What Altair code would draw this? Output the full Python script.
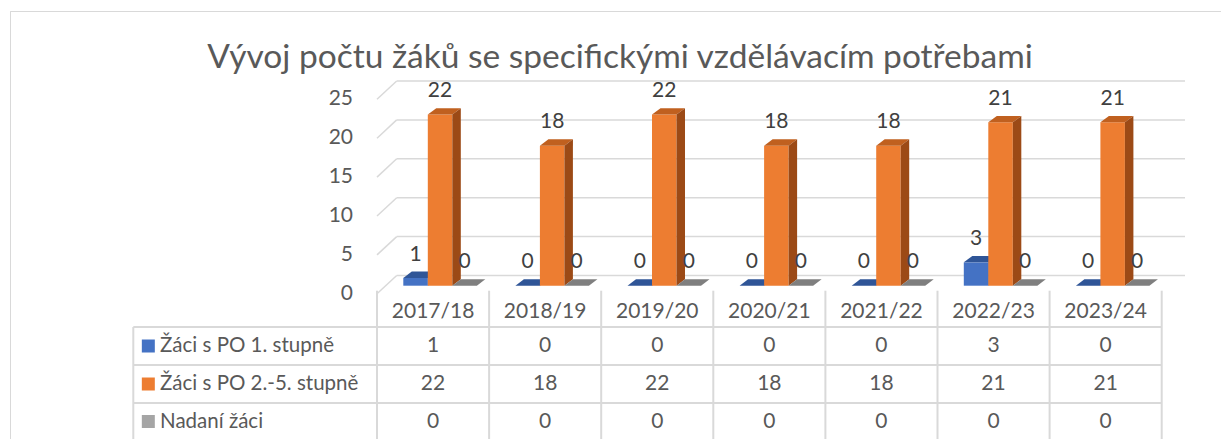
import altair as alt
import pandas as pd

# ---------------- data ----------------
categories = ["2017/18", "2018/19", "2019/20", "2020/21", "2021/22", "2022/23", "2023/24"]
series = ["Žáci s PO 1. stupně", "Žáci s PO 2.-5. stupně", "Nadaní žáci"]
po_1 = [1, 0, 0, 0, 0, 3, 0]
po_2_5 = [22, 18, 22, 18, 18, 21, 21]
nadani = [0, 0, 0, 0, 0, 0, 0]
values = [po_1, po_2_5, nadani]
y_ticks = [0, 5, 10, 15, 20, 25]
title_text = "Vývoj počtu žáků se specifickými vzdělávacím potřebami"

# ---------------- layout / style constants ----------------
X_DOM = [-3.2739, 7.5290]      # x in "category column" units
Y_DOM = [-19.704, 35.308]      # y in value units
W, H = 1211, 428
BAR_W = 0.2186
GROUP_SHIFT = 0.5625
DX, DY = 0.0758, 0.823         # 3-D depth of bars
GRID_FRONT, GRID_BACK = -1.041, 1.311
GRID_BACK_X, GRID_END = 0.1757, 7.208
LABEL_DY = 3.0
TABLE_TOP = -0.643
ROW_LINES = [-5.308, -10.193, -15.077]
HEADER_Y = -3.38
ROW_Y = [-7.751, -12.635, -17.455]
TABLE_LEFT = -2.174
KEY_X, NAME_X = -2.040, -1.935
YLAB_X = -0.2141
TITLE_X, TITLE_Y = 2.168, 27.95

FONT = "Lato"
FS = 21
TXT = "#595959"
LINE = "#d9d9d9"
palette = [
    {"front": "#4472c4", "top": "#2f5597", "side": "#345aa0"},
    {"front": "#ed7d31", "top": "#c0601f", "side": "#9c4a16"},
    {"front": "#a5a5a5", "top": "#7f7f7f", "side": "#6f6f6f"},
]
legend_colors = ["#4472c4", "#ed7d31", "#a5a5a5"]

xs = alt.Scale(domain=X_DOM, nice=False, zero=False)
ys = alt.Scale(domain=Y_DOM, nice=False, zero=False)
xaxis = alt.Axis(orient="top", labels=False, ticks=False, grid=False, title=None,
                 domainColor=LINE, domainWidth=1)
yaxis = alt.Axis(orient="left", labels=False, ticks=False, grid=False, title=None,
                 domainColor=LINE, domainWidth=1)


def X(f):
    return alt.X(f, type="quantitative", scale=xs, axis=xaxis)


def Y(f):
    return alt.Y(f, type="quantitative", scale=ys, axis=yaxis)


layers = []

# gridlines (3-D wall)
gl = pd.DataFrame({
    "x0": [0.0] * len(y_ticks),
    "y0": [v + GRID_FRONT for v in y_ticks],
    "x1": [GRID_BACK_X] * len(y_ticks),
    "y1": [v + GRID_BACK for v in y_ticks],
    "x2": [GRID_END] * len(y_ticks),
})
layers.append(alt.Chart(gl).mark_rule(color=LINE, strokeWidth=1.5).encode(
    x=X("x0"), x2="x1", y=Y("y0"), y2="y1"))
layers.append(alt.Chart(gl).mark_rule(color=LINE, strokeWidth=1.5).encode(
    x=X("x1"), x2="x2", y=Y("y1"), y2="y1"))

# y tick labels
yl = pd.DataFrame({"y": [v + GRID_FRONT for v in y_ticks], "t": [str(v) for v in y_ticks],
                   "x": [YLAB_X] * len(y_ticks)})
layers.append(alt.Chart(yl).mark_text(align="right", baseline="middle", font=FONT,
                                       fontSize=FS, color=TXT).encode(
    x=X("x"), y=Y("y"), text="t:N"))

# table lines
ncat = len(categories)
vl = pd.DataFrame({"x": list(range(ncat + 1)), "y": [TABLE_TOP] * (ncat + 1),
                   "y2": [Y_DOM[0]] * (ncat + 1)})
vl = pd.concat([vl, pd.DataFrame({"x": [TABLE_LEFT], "y": [ROW_LINES[0]], "y2": [Y_DOM[0]]})])
layers.append(alt.Chart(vl).mark_rule(color=LINE, strokeWidth=2).encode(
    x=X("x"), y=Y("y"), y2="y2"))
hl = pd.DataFrame({"y": ROW_LINES, "x": [TABLE_LEFT] * 3, "x2": [float(ncat)] * 3})
layers.append(alt.Chart(hl).mark_rule(color=LINE, strokeWidth=2).encode(
    x=X("x"), x2="x2", y=Y("y")))

# 3-D bars
for si, vals in enumerate(values):
    fronts, tops, sides = [], [], []
    for k, v in enumerate(vals):
        c = k + GROUP_SHIFT + (si - 1) * BAR_W
        xl, xr = c - BAR_W / 2, c + BAR_W / 2
        bid = f"{si}-{k}"
        fronts.append({"x": xl, "x2": xr, "y": 0.0, "y2": float(v)})
        tops += [
            {"id": bid, "x": xl, "y": v, "y2": v},
            {"id": bid, "x": xl + DX, "y": v + DY, "y2": v},
            {"id": bid, "x": xr, "y": v + DY, "y2": v},
            {"id": bid, "x": xr + DX, "y": v + DY, "y2": v + DY},
        ]
        sides += [
            {"id": bid, "x": xr, "y": v, "y2": 0.0},
            {"id": bid, "x": xr + DX, "y": v + DY, "y2": DY},
        ]
    p = palette[si]
    layers.append(alt.Chart(pd.DataFrame(fronts)).mark_rect(color=p["front"]).encode(
        x=X("x"), x2="x2", y=Y("y"), y2="y2"))
    layers.append(alt.Chart(pd.DataFrame(tops)).mark_area(color=p["top"], orient="vertical").encode(
        x=X("x"), y=Y("y"), y2="y2", detail="id:N"))
    layers.append(alt.Chart(pd.DataFrame(sides)).mark_area(color=p["side"], orient="vertical").encode(
        x=X("x"), y=Y("y"), y2="y2", detail="id:N"))

# data labels
lab = []
for si, vals in enumerate(values):
    for k, v in enumerate(vals):
        lab.append({"x": k + GROUP_SHIFT + (si - 1) * BAR_W, "y": v + LABEL_DY, "t": str(v)})
layers.append(alt.Chart(pd.DataFrame(lab)).mark_text(baseline="middle", font=FONT, fontSize=FS,
                                                       color="#404040").encode(
    x=X("x"), y=Y("y"), text="t:N"))

# table header
hd = pd.DataFrame({"x": [k + 0.5 for k in range(ncat)], "y": [HEADER_Y] * ncat, "t": categories})
layers.append(alt.Chart(hd).mark_text(baseline="middle", font=FONT, fontSize=FS, color=TXT).encode(
    x=X("x"), y=Y("y"), text="t:N"))

# table cells
cells = []
for si, vals in enumerate(values):
    for k, v in enumerate(vals):
        cells.append({"x": k + 0.5, "y": ROW_Y[si], "t": str(v)})
layers.append(alt.Chart(pd.DataFrame(cells)).mark_text(baseline="middle", font=FONT, fontSize=FS,
                                                         color=TXT).encode(
    x=X("x"), y=Y("y"), text="t:N"))

# row headers with legend keys
rh = pd.DataFrame({"s": series, "y": ROW_Y, "kx": [KEY_X] * 3, "nx": [NAME_X] * 3})
layers.append(alt.Chart(rh).mark_square(size=169, opacity=1).encode(
    x=X("kx"), y=Y("y"),
    color=alt.Color("s:N", scale=alt.Scale(domain=series, range=legend_colors), legend=None)))
layers.append(alt.Chart(rh).mark_text(align="left", baseline="middle", font=FONT, fontSize=20.5,
                                      color=TXT).encode(
    x=X("nx"), y=Y("y"), text="s:N"))

# title
tt = pd.DataFrame({"x": [TITLE_X], "y": [TITLE_Y], "t": [title_text]})
layers.append(alt.Chart(tt).mark_text(align="center", baseline="alphabetic", font=FONT,
                                      fontSize=33.5, color=TXT).encode(
    x=X("x"), y=Y("y"), text="t:N"))

chart = alt.layer(*layers).properties(
    width=W, height=H,
    autosize=alt.AutoSizeParams(type="none"),
    padding={"left": 10, "top": 11, "right": 0, "bottom": 0},
).configure_view(stroke=None).configure(background="white")

chart.save("out.html", embed_options={"renderer": "svg", "actions": False})
